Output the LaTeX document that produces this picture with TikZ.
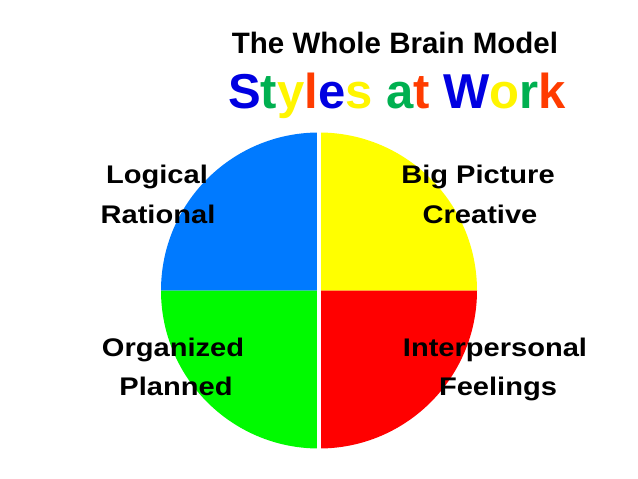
\documentclass[tikz,border=0pt]{standalone}
\usepackage{fontspec}
\setmainfont{Liberation Sans}
\newfontfamily\labfont[FakeStretch=1.14]{Liberation Sans}
\definecolor{qblue}{RGB}{0,122,255}
\definecolor{qyellow}{RGB}{255,255,0}
\definecolor{qgreen}{RGB}{0,250,0}
\definecolor{qred}{RGB}{255,0,0}
\definecolor{tblue}{RGB}{0,0,225}
\definecolor{tgreen}{RGB}{0,176,80}
\definecolor{tyellow}{RGB}{255,245,0}
\definecolor{tred}{RGB}{255,60,0}
\begin{document}
\begin{tikzpicture}[x=1pt,y=-1pt,
  lab/.style={anchor=base,inner sep=0pt,font=\labfont\bfseries\fontsize{25.5}{30}\selectfont},
  ttl/.style={anchor=base,inner sep=0pt,font=\bfseries\fontsize{29.5}{34}\selectfont},
  big/.style={anchor=base,inner sep=0pt,font=\bfseries\fontsize{49}{56}\selectfont}]
\useasboundingbox[fill=white] (0,0) rectangle (638,479);
\coordinate (c) at (319,290.5);
\def\R{158}
\fill[qblue] (c) -- ++(-\R,0) arc[start angle=180,end angle=270,radius=\R] -- cycle;
\fill[qyellow] (c) -- ++(0,-\R) arc[start angle=270,end angle=360,radius=\R] -- cycle;
\fill[qred] (c) -- ++(\R,0) arc[start angle=0,end angle=90,radius=\R] -- cycle;
\fill[qgreen] (c) -- ++(0,\R) arc[start angle=90,end angle=180,radius=\R] -- cycle;
\draw[white,line width=3.5pt] ([yshift=-160pt]c) -- ([yshift=160pt]c);
\node[ttl] (title) at (395,53) {The Whole Brain Model};
\node[big] (sub) at (397,108) {\textcolor{tblue}{S}\textcolor{tgreen}{t}\textcolor{tyellow}{y}\textcolor{tred}{l}\textcolor{tblue}{e}\textcolor{tyellow}{s} \textcolor{tgreen}{a}\textcolor{tred}{t} \textcolor{tblue}{W}\textcolor{tyellow}{o}\textcolor{tgreen}{r}\textcolor{tred}{k}};
\node[lab] (logical) at (157,183) {Logical};
\node[lab] (rational) at (158,223) {Rational};
\node[lab] (bigpic) at (478,183) {Big Picture};
\node[lab] (creative) at (480,223) {Creative};
\node[lab] (organized) at (173,356) {Organized};
\node[lab] (planned) at (176,395) {Planned};
\node[lab] (interp) at (495,356) {Interpersonal};
\node[lab] (feelings) at (498,395) {Feelings};
\end{tikzpicture}
\end{document}
